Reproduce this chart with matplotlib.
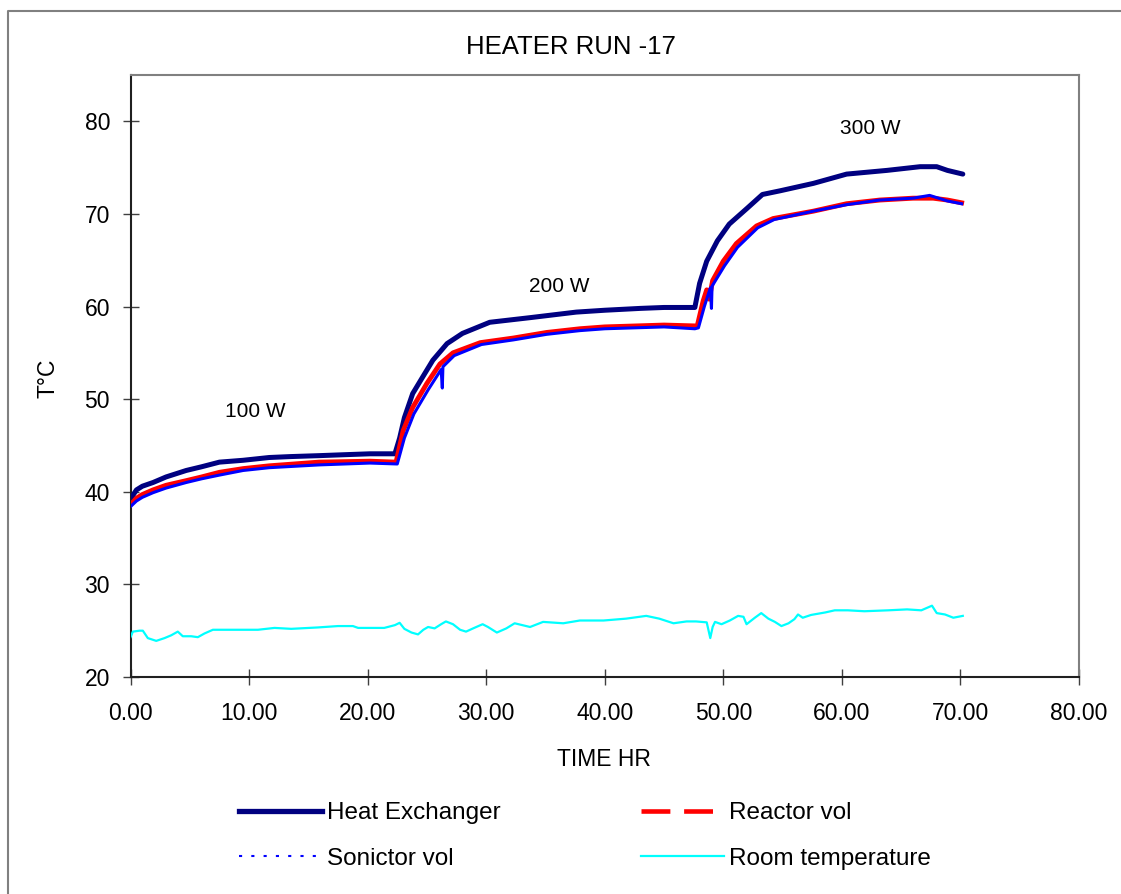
import matplotlib
matplotlib.use("Agg")
import matplotlib.pyplot as plt
from matplotlib.lines import Line2D

plt.rcParams['font.family'] = ['Liberation Sans', 'DejaVu Sans']

# ---- data ----
hx_t = [0.0, 0.5, 1.0, 1.9, 3.0, 4.7, 6.0, 7.5, 9.5, 11.7, 13.5, 15.9, 18.0, 20.2, 22.3,
        22.7, 23.1, 23.8, 24.6, 25.5, 26.7, 28.0, 30.3, 33.7, 37.6, 40.0, 43.0, 45.0, 47.6,
        48.0, 48.6, 49.5, 50.5, 52.0, 53.3, 54.8, 57.6, 60.4, 63.8, 66.6, 68.0, 68.9, 70.2]
hx_v = [39.2, 40.2, 40.6, 41.0, 41.6, 42.3, 42.7, 43.2, 43.4, 43.7, 43.8, 43.9, 44.0, 44.1, 44.1,
        45.8, 48.0, 50.6, 52.3, 54.2, 56.0, 57.1, 58.3, 58.8, 59.4, 59.6, 59.8, 59.9, 59.9,
        62.5, 64.9, 67.1, 68.9, 70.6, 72.1, 72.5, 73.3, 74.3, 74.7, 75.1, 75.1, 74.7, 74.3]

rv_t = [0.0, 0.5, 1.0, 1.9, 3.0, 4.7, 6.0, 7.5, 9.5, 11.7, 15.9, 20.2, 22.4,
        23.0, 23.8, 25.0, 26.1, 27.2, 29.5, 32.3, 35.1, 37.9, 40.0, 45.0, 47.8,
        48.3, 48.6, 48.8, 49.1, 50.0, 51.1, 52.8, 54.2, 57.6, 60.4, 63.2, 66.0, 67.7, 68.9, 70.1]
rv_v = [38.6, 39.3, 39.7, 40.2, 40.7, 41.2, 41.6, 42.1, 42.5, 42.8, 43.2, 43.3, 43.2,
        46.6, 49.1, 51.7, 53.8, 55.0, 56.1, 56.6, 57.2, 57.6, 57.8, 58.0, 57.9,
        60.6, 61.8, 60.8, 62.8, 64.9, 66.8, 68.7, 69.5, 70.3, 71.1, 71.5, 71.7, 71.7, 71.5, 71.2]

sv_t = [0.0, 0.5, 1.0, 1.9, 3.0, 4.7, 6.0, 7.5, 9.5, 11.7, 15.9, 20.2, 22.5,
        23.1, 23.9, 25.1, 26.2, 26.3, 26.35, 27.3, 29.6, 32.3, 35.1, 37.9, 40.0, 45.0, 47.6, 47.9,
        48.4, 48.9, 49.0, 49.05, 50.1, 51.2, 52.9, 54.3, 57.6, 60.4, 63.2, 66.0, 67.4, 68.9, 70.1]
sv_v = [38.4, 39.0, 39.4, 39.9, 40.4, 41.0, 41.4, 41.8, 42.3, 42.6, 42.9, 43.1, 43.0,
        45.8, 48.4, 51.0, 53.2, 51.2, 53.5, 54.7, 55.9, 56.4, 57.0, 57.4, 57.6, 57.8, 57.6, 57.7,
        60.0, 62.0, 59.8, 62.2, 64.4, 66.4, 68.5, 69.4, 70.3, 71.0, 71.5, 71.7, 72.0, 71.4, 71.1]

rt_t = [0.0, 0.2, 0.76, 1.04, 1.46, 2.17, 2.87, 3.43, 3.99, 4.41, 5.12, 5.68, 6.24, 6.95, 9.34,
        10.75, 12.15, 13.56, 15.8, 17.5, 18.76, 19.2, 21.4, 22.3, 22.7, 23.1, 23.7, 24.25, 24.7,
        25.1, 25.65, 26.2, 26.6, 27.2, 27.8, 28.3, 28.9, 29.7, 30.15, 30.9, 31.7, 32.4, 33.7,
        34.8, 36.5, 37.9, 39.9, 41.8, 43.5, 44.6, 45.8, 46.9, 47.7, 48.6, 48.9, 49.1, 49.3,
        49.85, 50.55, 51.25, 51.7, 51.96, 52.66, 53.2, 53.8, 54.35, 54.9, 55.5, 56.0, 56.3,
        56.7, 57.4, 58.6, 59.4, 60.5, 61.9, 63.9, 65.5, 66.7, 67.6, 68.0, 68.7, 69.4, 70.2]
rt_v = [24.3, 24.9, 25.0, 25.0, 24.2, 23.9, 24.2, 24.5, 24.9, 24.4, 24.4, 24.3, 24.7, 25.1, 25.1,
        25.1, 25.3, 25.2, 25.35, 25.5, 25.5, 25.3, 25.3, 25.6, 25.85, 25.2, 24.8, 24.6, 25.1,
        25.4, 25.25, 25.7, 26.0, 25.7, 25.1, 24.9, 25.25, 25.7, 25.4, 24.8, 25.25, 25.8, 25.4,
        25.95, 25.8, 26.1, 26.1, 26.3, 26.6, 26.3, 25.8, 26.0, 26.0, 25.9, 24.2, 25.4, 25.95,
        25.7, 26.1, 26.6, 26.5, 25.7, 26.4, 26.9, 26.3, 25.95, 25.5, 25.8, 26.25, 26.75,
        26.4, 26.7, 26.97, 27.2, 27.2, 27.1, 27.2, 27.3, 27.2, 27.7, 26.9, 26.75, 26.4, 26.6]

series_names = ["Heat Exchanger", "Reactor vol", "Sonictor vol", "Room temperature"]
power_labels = ["100 W", "200 W", "300 W"]
power_pos_t = [10.5, 36.2, 62.4]
power_pos_v = [48.7, 62.2, 79.2]
x_ticks = [0, 10, 20, 30, 40, 50, 60, 70, 80]
y_ticks = [20, 30, 40, 50, 60, 70, 80]

# ---- figure ----
W, H = 1121, 894
fig = plt.figure(figsize=(W / 100, H / 100), dpi=100)
ax = fig.add_axes([130.5 / W, 1 - 677 / H, (1079 - 130.5) / W, (677 - 75) / H])

NAVY = '#000080'
RED = '#FF0000'
BLUE = '#0000FF'
CYAN = '#00FFFF'

h_hx, = ax.plot(hx_t, hx_v, color=NAVY, lw=3.6, solid_capstyle='round', zorder=3)
h_rv, = ax.plot(rv_t, rv_v, color=RED, lw=3.5, zorder=4)
h_sv, = ax.plot(sv_t, sv_v, color=BLUE, lw=2.2, zorder=5)
h_rt, = ax.plot(rt_t, rt_v, color=CYAN, lw=1.6, zorder=6)

for lab, tt, vv in zip(power_labels, power_pos_t, power_pos_v):
    ax.text(tt, vv, lab, ha='center', va='center', fontsize=15, color='black')

ax.set_xlim(0, 80)
ax.set_ylim(20, 85)
ax.set_xticks(x_ticks)
ax.set_xticklabels([f"{v:.2f}" for v in x_ticks])
ax.set_yticks(y_ticks)
ax.set_yticklabels([str(v) for v in y_ticks])
ax.tick_params(axis='both', direction='inout', length=11.5, width=1.0, color='#404040',
               labelsize=16.5)
ax.tick_params(axis='y', pad=9)
ax.tick_params(axis='x', pad=12)
for side in ['top', 'right']:
    ax.spines[side].set_color('#808080')
    ax.spines[side].set_linewidth(1.5)
for side in ['left', 'bottom']:
    ax.spines[side].set_color('#202020')
    ax.spines[side].set_linewidth(1.5)

fig.text(571 / W, 1 - 47 / H, "HEATER RUN -17", ha='center', va='center', fontsize=18.5)
fig.text(604 / W, 1 - 760 / H, "TIME HR", ha='center', va='center', fontsize=16.5)
fig.text(48 / W, 1 - 378 / H, "T°C", ha='center', va='center', fontsize=16.5, rotation=90)

# outer chart border (left and top visible)
fig.add_artist(Line2D([8 / W, 8 / W, 1.0], [0.0, 1 - 11 / H, 1 - 11 / H],
                      transform=fig.transFigure, color='#808080', lw=1.5))

# legend keys (column-major order so rows read: HX, Reactor / Sonictor, Room)
leg_hx = Line2D([], [], color=NAVY, lw=3.8)
leg_rv = Line2D([], [], color=RED, lw=3.3, dashes=(6.3, 3.0))
leg_sv = Line2D([], [], color=BLUE, lw=1.5, dashes=(1.5, 4.4))
leg_rt = Line2D([], [], color=CYAN, lw=1.6)
fig.legend([leg_hx, leg_sv, leg_rv, leg_rt],
           [series_names[0], series_names[2], series_names[1], series_names[3]],
           loc='center', bbox_to_anchor=(585 / W, 1 - 836 / H),
           ncol=2, frameon=False, fontsize=17.5, handlelength=3.4, handletextpad=0.2,
           columnspacing=5.8, labelspacing=0.95)

fig.savefig("out.png", dpi=100)
